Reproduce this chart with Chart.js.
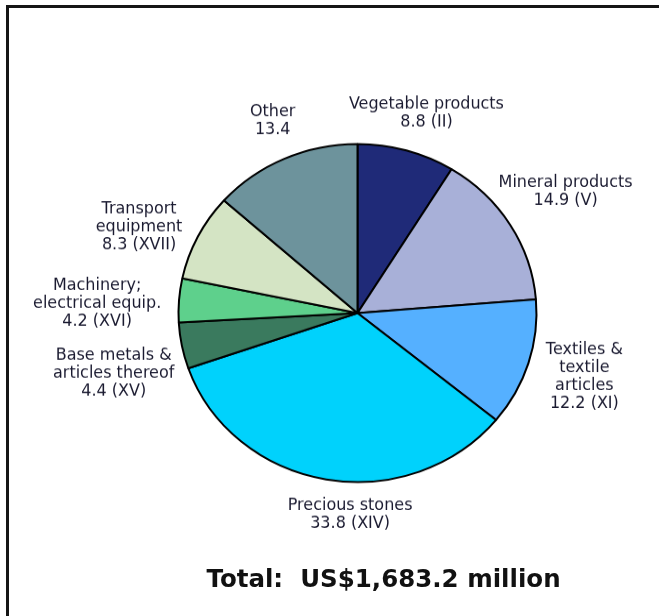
<!DOCTYPE html>
<html>
<head>
<meta charset="utf-8">
<script src="https://cdn.jsdelivr.net/npm/chart.js@4.4.1/dist/chart.umd.min.js"></script>
<style>
    html, body { margin: 0; padding: 0; background: #fff; overflow: hidden; }
    #page { position: relative; width: 659px; height: 616px; }
    #frame {
        position: absolute; left: 6px; top: 5px; width: 700px; height: 700px;
        border-left: 3px solid #151515; border-top: 3px solid #151515;
    }
    /* the reference pie is slightly flattened, so squash the canvas vertically */
    #squash { position: absolute; left: 0; top: 0; width: 659px; height: 652px;
              transform: scaleY(0.9443); transform-origin: 0 0; }
    #total {
        position: absolute; left: 0; width: 659px; top: 564px; text-align: center;
        padding-left: 108px; box-sizing: border-box;
        font: bold 24.5px "DejaVu Sans", Verdana, sans-serif; color: #111; white-space: pre;
    }
</style>
</head>
<body>
<div id="page">
    <div id="frame"></div>
    <div id="squash"><canvas id="pieChart" width="659" height="652"></canvas></div>
    <div id="total">Total:  US$1,683.2 million</div>
</div>
<script>
// Shares of exports by HS section (%), clockwise from 12 o'clock
const categories = ['Vegetable products', 'Mineral products', 'Textiles & textile articles',
    'Precious stones', 'Base metals & articles thereof', 'Machinery; electrical equip.',
    'Transport equipment', 'Other'];
const shares = [8.8, 14.9, 12.2, 33.8, 4.4, 4.2, 8.3, 13.4];
const sectionCodes = ['II', 'V', 'XI', 'XIV', 'XV', 'XVI', 'XVII', ''];
const nameLines = [
    ['Vegetable products'],
    ['Mineral products'],
    ['Textiles &', 'textile', 'articles'],
    ['Precious stones'],
    ['Base metals &', 'articles thereof'],
    ['Machinery;', 'electrical equip.'],
    ['Transport', 'equipment'],
    ['Other']
];
const sliceColors = ['#1f2a78', '#a8b0d8', '#55b0ff', '#00d2fc',
    '#3a7a5e', '#5ed08c', '#d4e4c4', '#6d939c'];

const SQUASH = 0.9443;

const sliceLabels = {
    id: 'sliceLabels',
    afterDatasetsDraw(chart, args, opts) {
        const ctx = chart.ctx;
        const meta = chart.getDatasetMeta(0);
        ctx.save();
        ctx.font = opts.font;
        ctx.fillStyle = opts.color;
        ctx.textAlign = 'center';
        ctx.textBaseline = 'middle';
        const lh = opts.lineHeight / SQUASH;
        meta.data.forEach((arc, i) => {
            const code = sectionCodes[i] ? ' (' + sectionCodes[i] + ')' : '';
            const lines = nameLines[i].concat([shares[i].toFixed(1) + code]);
            const mid = (arc.startAngle + arc.endAngle) / 2;
            const c = Math.cos(mid), s = Math.sin(mid);
            const w = Math.max(...lines.map(l => ctx.measureText(l).width));
            const h = lines.length * lh;
            const ax = arc.x + c * (arc.outerRadius + opts.gap);
            const ay = arc.y + s * (arc.outerRadius + opts.gap);
            const nudge = opts.nudge[i] || [0, 0];
            const cx = ax + c * w / 2 + nudge[0];
            const cy = ay + s * h / 2 + nudge[1] / SQUASH;
            lines.forEach((line, j) => {
                ctx.save();
                ctx.translate(cx, cy - h / 2 + (j + 0.5) * lh);
                ctx.scale(1, 1 / SQUASH);
                ctx.fillText(line, 0, 0);
                ctx.restore();
            });
        });
        ctx.restore();
    }
};

document.addEventListener('DOMContentLoaded', function() {
    const ctx = document.getElementById('pieChart').getContext('2d');
    new Chart(ctx, {
        type: 'pie',
        data: {
            labels: categories,
            datasets: [{
                data: shares,
                backgroundColor: sliceColors,
                borderColor: '#000',
                borderWidth: 2,
                radius: 179
            }]
        },
        options: {
            responsive: false,
            animation: false,
            layout: { padding: { left: 60, right: 4, top: 15, bottom: 4 } },
            plugins: {
                legend: { display: false },
                tooltip: { enabled: false },
                sliceLabels: {
                    font: '16px "DejaVu Sans", Verdana, sans-serif',
                    color: '#1a1a30',
                    lineHeight: 18,
                    gap: 18,
                    nudge: [[-6, -3], [-17, -15], [2, -2], [38, 1], [9, 19], [0, 7], [-4, 10], [5, -6]]
                }
            }
        },
        plugins: [sliceLabels]
    });
});
</script>
</body>
</html>
